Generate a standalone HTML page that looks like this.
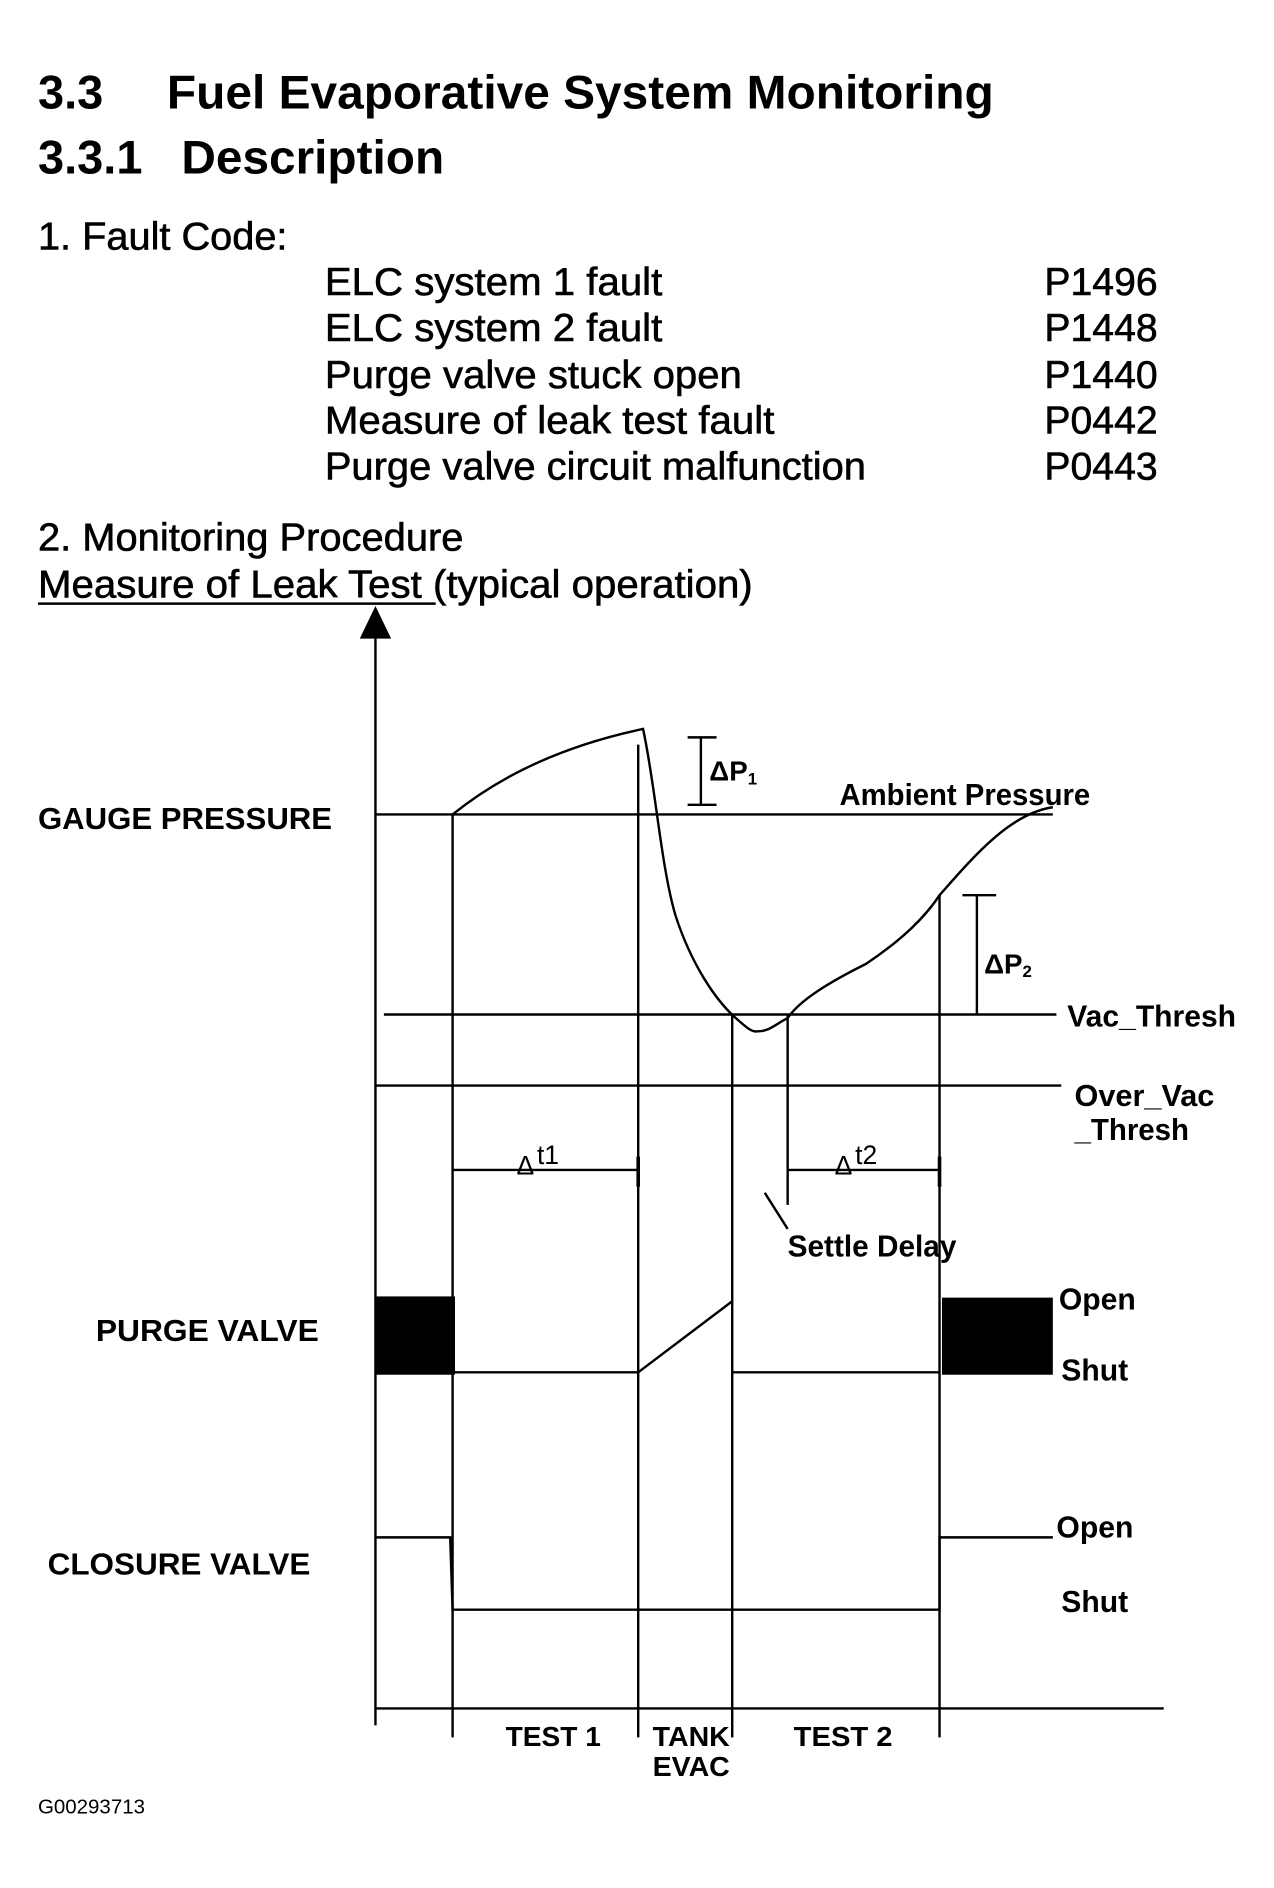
<!DOCTYPE html>
<html><head><meta charset="utf-8"><style>
html,body{margin:0;padding:0;background:#fff;}
svg{display:block;}
text{font-family:"Liberation Sans",Arial,sans-serif;fill:#000;}
</style></head><body>
<svg width="1274" height="1888" viewBox="1.5 0 1057 1567" preserveAspectRatio="none" xmlns="http://www.w3.org/2000/svg">
<g font-weight="bold" font-size="39">
<text x="33" y="90">3.3</text>
<text x="140" y="90" textLength="686" lengthAdjust="spacingAndGlyphs">Fuel Evaporative System Monitoring</text>
<text x="33" y="144">3.3.1</text>
<text x="152" y="144" textLength="218" lengthAdjust="spacingAndGlyphs">Description</text>
</g>
<g font-size="32.5" stroke="#000" stroke-width="0.5">
<text x="33" y="207" textLength="207" lengthAdjust="spacingAndGlyphs">1. Fault Code:</text>
<text x="271" y="245" textLength="280" lengthAdjust="spacingAndGlyphs">ELC system 1 fault</text>
<text x="271" y="283" textLength="280" lengthAdjust="spacingAndGlyphs">ELC system 2 fault</text>
<text x="271" y="322" textLength="346" lengthAdjust="spacingAndGlyphs">Purge valve stuck open</text>
<text x="271" y="360" textLength="373" lengthAdjust="spacingAndGlyphs">Measure of leak test fault</text>
<text x="271" y="398" textLength="449" lengthAdjust="spacingAndGlyphs">Purge valve circuit malfunction</text>
<text x="868" y="245">P1496</text>
<text x="868" y="283">P1448</text>
<text x="868" y="322">P1440</text>
<text x="868" y="360">P0442</text>
<text x="868" y="398">P0443</text>
<text x="33" y="457" textLength="353" lengthAdjust="spacingAndGlyphs">2. Monitoring Procedure</text>
<text x="33" y="496" textLength="593" lengthAdjust="spacingAndGlyphs">Measure of Leak Test (typical operation)</text>
</g>
<line x1="33" y1="501" x2="363" y2="501" stroke="#000" stroke-width="2"/>
<g stroke="#000" stroke-width="2" fill="none">
<line x1="313" y1="528" x2="313" y2="1432"/>
<line x1="313" y1="1418" x2="967" y2="1418"/>
<line x1="377" y1="1418" x2="377" y2="1442"/>
<line x1="531" y1="1418" x2="531" y2="1442"/>
<line x1="609" y1="1418" x2="609" y2="1442"/>
<line x1="781" y1="1418" x2="781" y2="1442"/>
<line x1="313" y1="676" x2="875" y2="676"/>
<line x1="320" y1="842" x2="878" y2="842"/>
<line x1="313" y1="901" x2="882" y2="901"/>
<line x1="377" y1="676" x2="377" y2="1418"/>
<line x1="531" y1="618" x2="531" y2="1418"/>
<line x1="609" y1="842" x2="609" y2="1418"/>
<line x1="781" y1="743" x2="781" y2="1418"/>
<line x1="655" y1="842" x2="655" y2="1000"/>
<path d="M377,676 Q440,625 535,605 C545,650 550,720 562,760 C575,800 595,830 612,845 C620,852 625,857 630,856 C640,856 645,850 655,845 C665,830 690,815 720,800 C750,780 770,760 781,743 C810,710 840,675 875,670"/>
<line x1="583" y1="612" x2="583" y2="668"/>
<line x1="572" y1="612" x2="596" y2="612"/>
<line x1="572" y1="668" x2="596" y2="668"/>
<line x1="812" y1="743" x2="812" y2="842"/>
<line x1="800" y1="743" x2="828" y2="743"/>
<line x1="377" y1="971" x2="531" y2="971"/>
<line x1="531" y1="960" x2="531" y2="985" stroke-width="3"/>
<line x1="655" y1="971" x2="781" y2="971"/>
<line x1="781" y1="960" x2="781" y2="985" stroke-width="3"/>
<line x1="636" y1="990" x2="655" y2="1020"/>
<line x1="377" y1="1139" x2="531" y2="1139"/>
<line x1="531" y1="1139" x2="609" y2="1080"/>
<line x1="609" y1="1139" x2="781" y2="1139"/>
<polyline points="313,1276 375,1276 377,1336 781,1336 781,1276 875,1276"/>
</g>
<polygon points="313,503 300,530 326,530" fill="#000"/>
<rect x="313" y="1076" width="66" height="65" fill="#000"/>
<rect x="783" y="1077" width="92" height="64" fill="#000"/>
<g font-size="25" font-weight="bold">
<text x="33" y="688" textLength="244" lengthAdjust="spacingAndGlyphs">GAUGE PRESSURE</text>
<text x="81" y="1113" textLength="185" lengthAdjust="spacingAndGlyphs">PURGE VALVE</text>
<text x="41" y="1307" textLength="218" lengthAdjust="spacingAndGlyphs">CLOSURE VALVE</text>
<text x="698" y="668" textLength="208" lengthAdjust="spacingAndGlyphs">Ambient Pressure</text>
<text x="887" y="852" textLength="140" lengthAdjust="spacingAndGlyphs">Vac_Thresh</text>
<text x="893" y="918" textLength="116" lengthAdjust="spacingAndGlyphs">Over_Vac</text>
<text x="893" y="946" textLength="95" lengthAdjust="spacingAndGlyphs">_Thresh</text>
<text x="655" y="1043" textLength="140" lengthAdjust="spacingAndGlyphs">Settle Delay</text>
<text x="880" y="1087">Open</text>
<text x="882" y="1146">Shut</text>
<text x="878" y="1276">Open</text>
<text x="882" y="1338">Shut</text>
<text x="590" y="648" font-size="23">ΔP<tspan font-size="14" dy="3">1</tspan></text>
<text x="818" y="808" font-size="23">ΔP<tspan font-size="14" dy="3">2</tspan></text>
</g>
<g font-size="23" font-weight="bold">
<text x="421" y="1449" textLength="79" lengthAdjust="spacingAndGlyphs">TEST 1</text>
<text x="543" y="1449" textLength="64" lengthAdjust="spacingAndGlyphs">TANK</text>
<text x="543" y="1474" textLength="64" lengthAdjust="spacingAndGlyphs">EVAC</text>
<text x="660" y="1449" textLength="82" lengthAdjust="spacingAndGlyphs">TEST 2</text>
</g>
<text x="430" y="975" font-size="22">Δ</text><text x="447" y="966" font-size="22">t1</text>
<text x="694" y="975" font-size="22">Δ</text><text x="711" y="966" font-size="22">t2</text>
<text x="33" y="1505" font-size="17">G00293713</text>
</svg>
</body></html>
